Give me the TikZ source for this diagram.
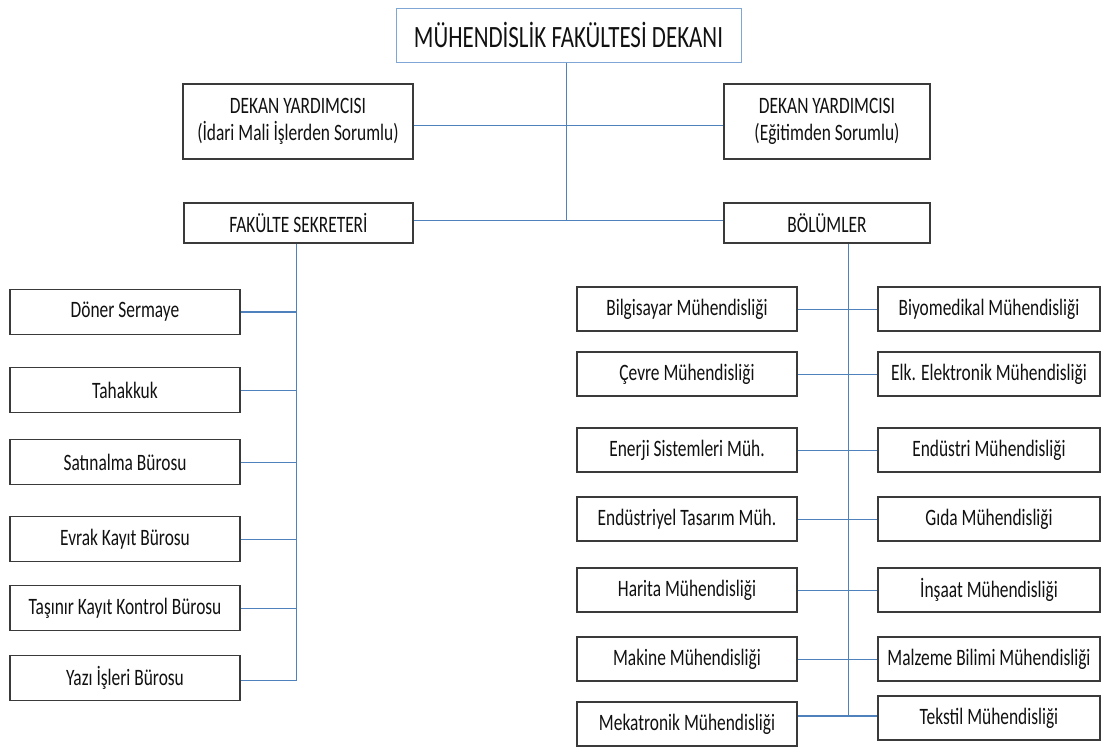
\documentclass[tikz,border=0pt]{standalone}
\usepackage{fontspec}
\setmainfont{Carlito}[FakeStretch=0.74]
\begin{document}
\begin{tikzpicture}[x=1pt,y=-1pt,
  box/.style={draw=boxgray,line width=1.3pt,fill=white,inner sep=0pt,align=center,text=textblack,font=\fontsize{23.5}{27}\selectfont},
  conn/.style={draw=linkblue,line width=1pt},
  thick conn/.style={draw=linkblue,line width=2pt}]
\definecolor{boxgray}{HTML}{3A3A3A}
\definecolor{textblack}{HTML}{111111}
\definecolor{linkblue}{HTML}{4F81BD}
\definecolor{topblue}{HTML}{7FA6D4}
\useasboundingbox (0,0) rectangle (1107,747);
% top
\node[box,draw=topblue,line width=1pt,minimum width=345pt,minimum height=54pt,font=\fontsize{31}{35}\selectfont] (dekan) at (568.5,35) {MÜHENDİSLİK FAKÜLTESİ DEKANI};
\node[box,minimum width=230pt,minimum height=75pt] (dy1) at (298,121.5) {DEKAN YARDIMCISI\\(İdari Mali İşlerden Sorumlu)};
\node[box,minimum width=206pt,minimum height=75pt] (dy2) at (827,121.5) {DEKAN YARDIMCISI\\(Eğitimden Sorumlu)};
\node[box,minimum width=229pt,minimum height=40pt] (fs) at (298.5,223) {FAKÜLTE SEKRETERİ};
\node[box,minimum width=206pt,minimum height=40pt] (bol) at (827,223) {BÖLÜMLER};
\coordinate (mid) at (566,220);
\draw[conn] (dekan.south -| mid) -- (mid);
\draw[conn] (dy1.east |- 0,125) -- (dy2.west |- 0,125);
\draw[conn] (fs.east |- mid) -- (bol.west |- mid);
% left column
\node[box,minimum width=230pt,minimum height=45pt] (l1) at (125,312) {Döner Sermaye};
\node[box,minimum width=230pt,minimum height=45pt] (l2) at (125,390) {Tahakkuk};
\node[box,minimum width=230pt,minimum height=45pt] (l3) at (125,462) {Satınalma Bürosu};
\node[box,minimum width=230pt,minimum height=45pt] (l4) at (125,539) {Evrak Kayıt Bürosu};
\node[box,minimum width=230pt,minimum height=45pt] (l5) at (125,608) {Taşınır Kayıt Kontrol Bürosu};
\node[box,minimum width=230pt,minimum height=45pt] (l6) at (125,678) {Yazı İşleri Bürosu};
\coordinate (lv) at (296,680);
\draw[conn] (fs.south -| lv) -- (lv) -- (l6.east |- lv);
\draw[thick conn] (l1.east) -- (l1.east -| lv);
\foreach \n in {l2,l3,l4,l5} \draw[conn] (\n.east) -- (\n.east -| lv);
% right columns
\node[box,minimum width=220pt,minimum height=44pt] (a1) at (687,309) {Bilgisayar Mühendisliği};
\node[box,minimum width=222pt,minimum height=44pt] (b1) at (989,309) {Biyomedikal Mühendisliği};
\node[box,minimum width=220pt,minimum height=44pt] (a2) at (687,374) {Çevre Mühendisliği};
\node[box,minimum width=222pt,minimum height=44pt] (b2) at (989,374) {Elk. Elektronik Mühendisliği};
\node[box,minimum width=220pt,minimum height=44pt] (a3) at (687,450) {Enerji Sistemleri Müh.};
\node[box,minimum width=222pt,minimum height=44pt] (b3) at (989,450) {Endüstri Mühendisliği};
\node[box,minimum width=220pt,minimum height=44pt] (a4) at (687,519) {Endüstriyel Tasarım Müh.};
\node[box,minimum width=222pt,minimum height=44pt] (b4) at (989,519) {Gıda Mühendisliği};
\node[box,minimum width=220pt,minimum height=44pt] (a5) at (687,590) {Harita Mühendisliği};
\node[box,minimum width=222pt,minimum height=44pt] (b5) at (989,590) {İnşaat Mühendisliği};
\node[box,minimum width=220pt,minimum height=44pt] (a6) at (687,659) {Makine Mühendisliği};
\node[box,minimum width=222pt,minimum height=44pt] (b6) at (989,659) {Malzeme Bilimi Mühendisliği};
\node[box,minimum width=220pt,minimum height=44pt] (a7) at (687,724) {Mekatronik Mühendisliği};
\node[box,minimum width=222pt,minimum height=44pt] (b7) at (989,718) {Tekstil Mühendisliği};
\coordinate (rv) at (848,716);
\draw[conn] (bol.south -| rv) -- (rv);
\foreach \i in {1,...,6} \draw[conn] (a\i.east) -- (b\i.west);
\draw[thick conn] (a7.east |- rv) -- (b7.west |- rv);
\end{tikzpicture}
\end{document}
